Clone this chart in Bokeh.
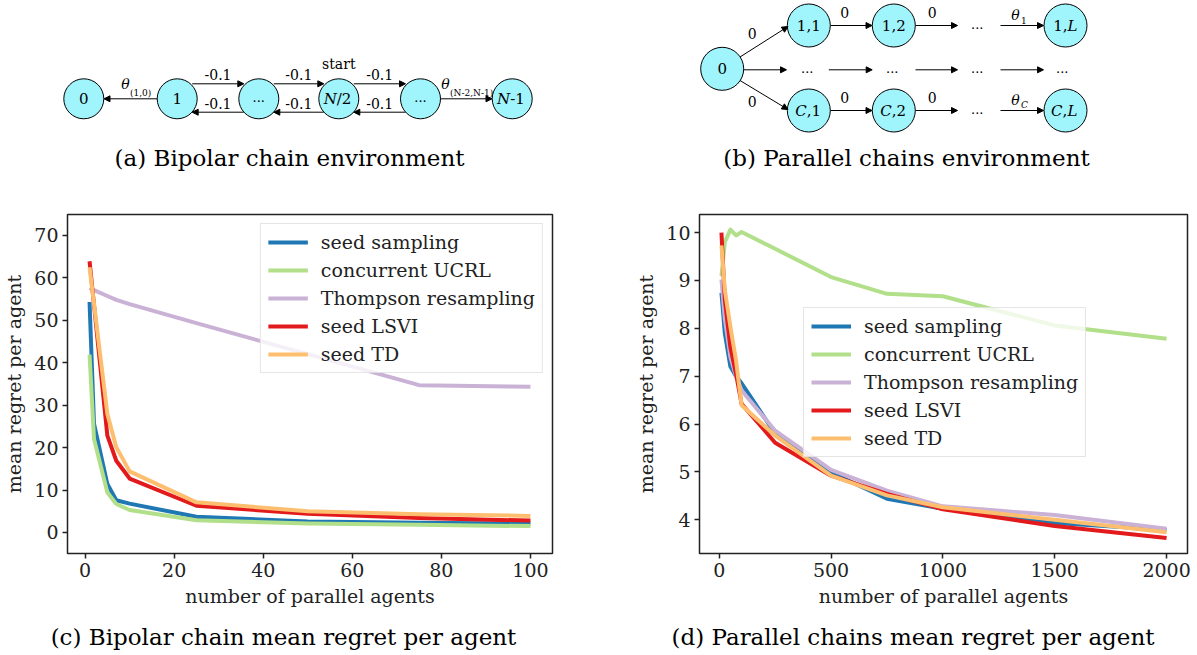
from bokeh.plotting import figure
from bokeh.layouts import column, row
from bokeh.models import Range1d, FixedTicker, Legend, LegendItem, Arrow, NormalHead
from bokeh.core.properties import value
from bokeh.embed import file_html
from bokeh.resources import INLINE

# ---------------- data ----------------
labels = ["seed sampling", "concurrent UCRL", "Thompson resampling", "seed LSVI", "seed TD"]
colors = ["#1f78b4", "#b2df8a", "#cab2d6", "#e31a1c", "#fdbf6f"]

# (c) bipolar chain
agents_c = [1, 2, 5, 7, 10, 25, 50, 75, 100]
seed_sampling_c = [54.3, 25.6, 11.4, 7.6, 6.8, 3.7, 2.6, 2.3, 2.1]
ucrl_c = [41.9, 22.0, 9.4, 6.7, 5.3, 2.9, 2.1, 1.8, 1.5]
thompson_c = [57.6, 57.1, 55.7, 54.8, 53.8, 49.3, 42.0, 34.7, 34.3]
lsvi_c = [63.9, 53.7, 22.8, 16.9, 12.7, 6.3, 4.4, 3.4, 2.8]
td_c = [62.5, 53.9, 27.9, 20.1, 14.4, 7.1, 5.0, 4.3, 3.9]

# (d) parallel chains
agents_d = [10, 25, 50, 75, 100, 250, 500, 750, 1000, 1500, 2000]
seed_sampling_d = [8.74, 7.9, 7.2, 7.0, 6.85, 5.80, 4.99, 4.44, 4.23, 3.93, 3.79]
ucrl_d = [9.09, 9.80, 10.06, 9.94, 10.01, 9.66, 9.07, 8.72, 8.67, 8.06, 7.78]
thompson_d = [9.02, 8.2, 7.40, 7.0, 6.70, 5.86, 5.04, 4.61, 4.28, 4.10, 3.81]
lsvi_d = [10.0, 8.6, 7.6, 7.05, 6.42, 5.61, 4.92, 4.54, 4.22, 3.87, 3.62]
td_d = [9.73, 8.8, 8.03, 7.33, 6.39, 5.76, 4.92, 4.51, 4.26, 4.0, 3.74]

ticks_cx = [0, 20, 40, 60, 80, 100]
ticks_cy = [0, 10, 20, 30, 40, 50, 60, 70]
ticks_dx = [0, 500, 1000, 1500, 2000]
ticks_dy = [4, 5, 6, 7, 8, 9, 10]

captions = ["(a) Bipolar chain environment", "(b) Parallel chains environment",
            "(c) Bipolar chain mean regret per agent", "(d) Parallel chains mean regret per agent"]

SERIF = "DejaVu Serif"
CYAN = "#a0f4fc"
INK = "#222222"

# ---------------- diagrams (top strip) ----------------
top = figure(width=1197, height=185, x_range=Range1d(0, 1197), y_range=Range1d(185, 0),
             x_axis_type=None, y_axis_type=None, output_backend="svg", toolbar_location=None,
             min_border=0, outline_line_color=None)
top.grid.visible = False

def arrow(p, x0, y0, x1, y1):
    p.add_layout(Arrow(end=NormalHead(size=6, fill_color="black", line_color="black", line_width=1),
                       x_start=x0, y_start=y0, x_end=x1, y_end=y1, line_width=1, line_color="black"))

def txt(p, x, y, s, size=13, align="center", style="normal", baseline="middle", color="black"):
    p.text(x=[x], y=[y], text=[s], text_font=value(SERIF), text_font_size=f"{size}px",
           text_align=align, text_baseline=baseline, text_font_style=style, text_color=color)

# (a) bipolar chain
a_x = [83.3, 176.7, 258.3, 338.3, 420.0, 511.7]
a_y = 98.3
top.circle(x=a_x, y=[a_y] * 6, radius=20, fill_color=CYAN, line_color="black", line_width=1)
txt(top, a_x[0], a_y, "0", 15)
txt(top, a_x[1], a_y, "1", 15)
txt(top, a_x[2], a_y - 2, "...", 13)
txt(top, a_x[3] - 2, a_y, "N", 15, align="right", style="italic")
txt(top, a_x[3] - 2, a_y, "/2", 15, align="left")
txt(top, a_x[4], a_y - 2, "...", 13)
txt(top, a_x[5] - 2, a_y, "N", 15, align="right", style="italic")
txt(top, a_x[5] - 2, a_y, "-1", 15, align="left")
# arrows
arrow(top, 156.7, a_y, 103.5, a_y)
arrow(top, 440.0, a_y, 491.5, a_y)
for i in (1, 2, 3):
    arrow(top, a_x[i] + 15, 83.3, a_x[i + 1] - 15, 83.3)
    arrow(top, a_x[i + 1] - 15, 111.7, a_x[i] + 15, 111.7)
    mx = (a_x[i] + a_x[i + 1]) / 2
    txt(top, mx, 74, "-0.1", 14)
    txt(top, mx, 102.7, "-0.1", 14)
txt(top, a_x[3], 63.3, "start", 14)
txt(top, 125, 83, "θ", 14, style="italic")
txt(top, 129.5, 92.5, "(1,0)", 9, align="left")
txt(top, 445, 83, "θ", 14, style="italic")
txt(top, 449.5, 92.5, "(N-2,N-1)", 9, align="left")

# (b) parallel chains
b_cols = [808.3, 893.3, 976.7, 1065.0]
b0 = (721.7, 68.3)
r1, rc, rm = 25.0, 110.0, 69.3
top.circle(x=[b0[0]], y=[b0[1]], radius=21.5, fill_color=CYAN, line_color="black", line_width=1)
top.circle(x=[b_cols[0], b_cols[1], b_cols[3]] * 2, y=[r1] * 3 + [rc] * 3, radius=21.5,
           fill_color=CYAN, line_color="black", line_width=1)
txt(top, b0[0], b0[1], "0", 15)
txt(top, b_cols[0], r1, "1,1", 15)
txt(top, b_cols[1], r1, "1,2", 15)
txt(top, b_cols[3] + 2, r1, "1,", 15, align="right")
txt(top, b_cols[3] + 2, r1, "L", 15, align="left", style="italic")
txt(top, b_cols[0] - 2, rc, "C", 15, align="right", style="italic")
txt(top, b_cols[0] - 2, rc, ",1", 15, align="left")
txt(top, b_cols[1] - 2, rc, "C", 15, align="right", style="italic")
txt(top, b_cols[1] - 2, rc, ",2", 15, align="left")
txt(top, b_cols[3] - 3, rc, "C", 15, align="right", style="italic")
txt(top, b_cols[3] - 3, rc, ",", 15, align="left")
txt(top, b_cols[3] + 2, rc, "L", 15, align="left", style="italic")
for yy in (r1, rc):
    txt(top, b_cols[2], yy - 2, "...", 13)
# branch arrows
arrow(top, 739.5, 56.5, 787.5, 26.0)
arrow(top, 739.5, 80.0, 787.5, 109.0)
arrow(top, 743.5, rm, 786.0, rm)
txt(top, 751.7, 32.5, "0", 14)
txt(top, 751.7, 100.5, "0", 14)
for yy in (r1, rc):
    arrow(top, 830.0, yy, 871.5, yy)
    arrow(top, 915.0, yy, 957.0, yy)
    arrow(top, 1000.0, yy, 1043.0, yy)
    txt(top, 844.3, yy - 13.3, "0", 14)
    txt(top, 931.7, yy - 13.3, "0", 14)
txt(top, 1015, 14, "θ", 14, style="italic")
txt(top, 1020.5, 19.5, "1", 9, align="left")
txt(top, 1015, 99, "θ", 14, style="italic")
txt(top, 1020.5, 104.5, "C", 9, align="left", style="italic")
for cx in (806.7, 891.7, 976.7, 1061.7):
    txt(top, cx, rm - 2, "...", 13)
arrow(top, 828.3, rm, 871.7, rm)
arrow(top, 915.0, rm, 957.0, rm)
arrow(top, 1000.0, rm, 1043.0, rm)

txt(top, 289, 157, captions[0], 23)
txt(top, 906, 157, captions[1], 23)

# ---------------- plots ----------------
def style_plot(p, xt, yt):
    p.grid.visible = False
    p.outline_line_color = INK
    p.outline_line_width = 1.5
    for ax, t in ((p.xaxis[0], xt), (p.yaxis[0], yt)):
        ax.ticker = FixedTicker(ticks=t)
        ax.minor_tick_line_color = None
        ax.axis_line_color = None
        ax.major_tick_in = 0
        ax.major_tick_out = 5
        ax.major_tick_line_color = INK
        ax.major_tick_line_width = 1.5
        ax.major_label_text_font = SERIF
        ax.major_label_text_font_size = "19px"
        ax.major_label_text_color = INK
        ax.axis_label_text_font = SERIF
        ax.axis_label_text_font_size = "19px"
        ax.axis_label_text_font_style = "normal"
        ax.axis_label_text_color = INK
    p.xaxis.major_label_standoff = 4
    p.yaxis.major_label_standoff = 4
    p.xaxis.axis_label_standoff = 5
    p.yaxis.axis_label_standoff = 6
    p.xaxis.axis_label = "number of parallel agents"
    p.yaxis.axis_label = "mean regret per agent"

def make_legend(p, rends, loc):
    lg = Legend(items=[LegendItem(label=l, renderers=[r]) for l, r in zip(labels, rends)],
                location=loc, label_text_font=SERIF, label_text_font_size="19px",
                label_text_color=INK, glyph_width=40, glyph_height=20, label_standoff=13,
                spacing=6, padding=7, margin=9, border_line_color="#cccccc",
                border_line_width=1, background_fill_color="white", background_fill_alpha=0.8)
    p.add_layout(lg)

pc = figure(width=600, height=435, x_range=Range1d(-3.95, 104.95), y_range=Range1d(-4.95, 74.9),
            output_backend="svg", toolbar_location=None, min_border_left=64, min_border_right=48,
            min_border_top=29, min_border_bottom=67)
style_plot(pc, ticks_cx, ticks_cy)
rc_list = []
for ys, col in zip([seed_sampling_c, ucrl_c, thompson_c, lsvi_c, td_c], colors):
    rc_list.append(pc.line(agents_c, ys, line_color=col, line_width=4, line_join="round"))
make_legend(pc, rc_list, "top_right")

pd_ = figure(width=597, height=435, x_range=Range1d(-88.2, 2093.6), y_range=Range1d(3.295, 10.377),
             output_backend="svg", toolbar_location=None, min_border_left=99, min_border_right=10,
             min_border_top=29, min_border_bottom=67)
style_plot(pd_, ticks_dx, ticks_dy)
rd_list = []
for ys, col in zip([seed_sampling_d, ucrl_d, thompson_d, lsvi_d, td_d], colors):
    rd_list.append(pd_.line(agents_d, ys, line_color=col, line_width=4, line_join="round"))
make_legend(pd_, rd_list, (104, 96))

# ---------------- bottom captions ----------------
bot = figure(width=1197, height=35, x_range=Range1d(0, 1197), y_range=Range1d(655, 620),
             x_axis_type=None, y_axis_type=None, output_backend="svg", toolbar_location=None,
             min_border=0, outline_line_color=None)
bot.grid.visible = False
txt(bot, 283, 636.7, captions[2], 23)
txt(bot, 912.5, 636.7, captions[3], 23)

layout = column(top, row(pc, pd_), bot)
open("out.html", "w").write(file_html(layout, INLINE))
